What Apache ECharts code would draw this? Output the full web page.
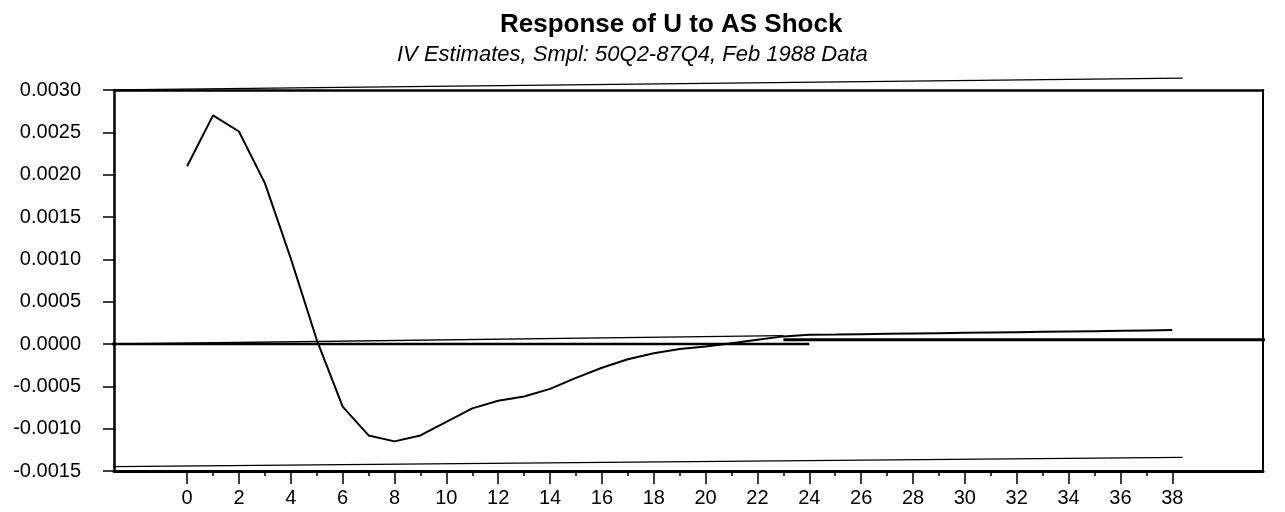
<!DOCTYPE HTML>
<html>
    <head>
        <meta charset="UTF-8">
        <title>Response of U to AS Shock</title>
        <style>
            html,body{margin:0;padding:0;width:100%;height:100%;background:#fff;}
            #wrap{width:1285px;height:512px;}
        </style>
    </head>
    <body>
        <div id="wrap"></div>

        <script src="https://cdn.jsdelivr.net/npm/echarts@6/dist/echarts.min.js"></script>
        <script>
            // horizon (quarters) and impulse response
            let steps = [0,1,2,3,4,5,6,7,8,9,10,11,12,13,14,15,16,17,18,19,
                         20,21,22,23,24,25,26,27,28,29,30,31,32,33,34,35,36,37,38];
            let response = [0.00210,0.00270,0.00251,0.00190,0.00101,0.00005,-0.00074,-0.00108,-0.00115,-0.00108,
                            -0.00092,-0.00076,-0.00067,-0.00062,-0.00053,-0.00040,-0.00028,-0.00018,-0.00011,-0.00006,
                            -0.00003,0.00001,0.00005,0.00009,0.00011,0.000112,0.000116,0.00012,0.000124,0.000128,
                            0.000132,0.000136,0.00014,0.000144,0.000148,0.000152,0.000156,0.00016,0.000164];

            // zero line (the scan shows it in two slightly offset pieces)
            let zeroLeft = [[-3.2, 0], [24, 0]];
            let zeroRight = [[23, 0.00005], [42.4, 0.00005]];

            // the faint slanted lines of the scan
            let slantTop = [[-3.2, 0.00300], [38.4, 0.00314]];
            let slantMid = [[-2.82, 0.00000], [23, 0.00010]];
            let slantBot = [[-3.2, -0.00145], [38.4, -0.00134]];

            let majorTicks = [0,2,4,6,8,10,12,14,16,18,20,22,24,26,28,30,32,34,36,38];
            let minorTicks = [1,3,5,7,9,11,13,15,17,19,21,23,25,27,29,31,33,35,37];

            let font = '"Liberation Sans", Arial, sans-serif';
            let wrap = document.getElementById('wrap');
            let mycharts = echarts.init(wrap);

            let line = steps.map((s, i) => [s, response[i]]);

            function plain(data, width){
                return {
                    type: 'line',
                    data: data,
                    symbol: 'none',
                    silent: true,
                    clip: false,
                    lineStyle: {color: '#000', width: width}
                };
            }

            let options = {
                animation: false,
                backgroundColor: '#fff',
                title: [{
                    text: 'Response of U to AS Shock',
                    left: 495,
                    top: 7,
                    textStyle: {fontFamily: font, fontSize: 26, fontWeight: 'bold', color: '#000'}
                }, {
                    text: 'IV Estimates, Smpl: 50Q2-87Q4, Feb 1988 Data',
                    left: 392,
                    top: 39,
                    textStyle: {fontFamily: font, fontSize: 22, fontStyle: 'italic', fontWeight: 'normal', color: '#000'}
                }],
                grid: {left: 114, right: 22, top: 90, bottom: 41},
                xAxis: [{
                    type: 'value',
                    min: -2.82,
                    max: 41.5,
                    position: 'bottom',
                    axisLine: {onZero: false, lineStyle: {color: '#000', width: 3}},
                    axisTick: {customValues: majorTicks, length: 13, lineStyle: {color: '#000', width: 1.5}},
                    axisLabel: {customValues: majorTicks, margin: 17, fontSize: 20, fontFamily: font, color: '#000'},
                    splitLine: {show: false}
                }, {
                    type: 'value',
                    min: -2.82,
                    max: 41.5,
                    position: 'bottom',
                    axisLine: {show: false, onZero: false},
                    axisTick: {customValues: minorTicks, length: 5, lineStyle: {color: '#000', width: 1.5}},
                    axisLabel: {show: false},
                    splitLine: {show: false}
                }, {
                    type: 'value',
                    min: -2.82,
                    max: 41.5,
                    position: 'top',
                    axisLine: {onZero: false, lineStyle: {color: '#000', width: 2.5}},
                    axisTick: {show: false},
                    axisLabel: {show: false},
                    splitLine: {show: false}
                }],
                yAxis: [{
                    type: 'value',
                    min: -0.0015,
                    max: 0.0030,
                    interval: 0.0005,
                    position: 'left',
                    axisLine: {show: true, onZero: false, lineStyle: {color: '#000', width: 2.5}},
                    axisTick: {show: true, length: 11, lineStyle: {color: '#000', width: 1.5}},
                    axisLabel: {
                        margin: 33,
                        fontSize: 20,
                        fontFamily: font,
                        color: '#000',
                        formatter: v => v.toFixed(4)
                    },
                    splitLine: {show: false}
                }, {
                    type: 'value',
                    min: -0.0015,
                    max: 0.0030,
                    position: 'right',
                    axisLine: {show: true, onZero: false, lineStyle: {color: '#000', width: 2}},
                    axisTick: {show: false},
                    axisLabel: {show: false},
                    splitLine: {show: false}
                }],
                series: [
                    plain(zeroLeft, 2.5),
                    plain(zeroRight, 3),
                    plain(slantTop, 1.3),
                    plain(slantMid, 1.3),
                    plain(slantBot, 1.3),
                    {
                        type: 'line',
                        data: line,
                        symbol: 'none',
                        lineStyle: {color: '#000', width: 2}
                    }
                ]
            };

            mycharts.setOption(options);
        </script>
    </body>
</html>
